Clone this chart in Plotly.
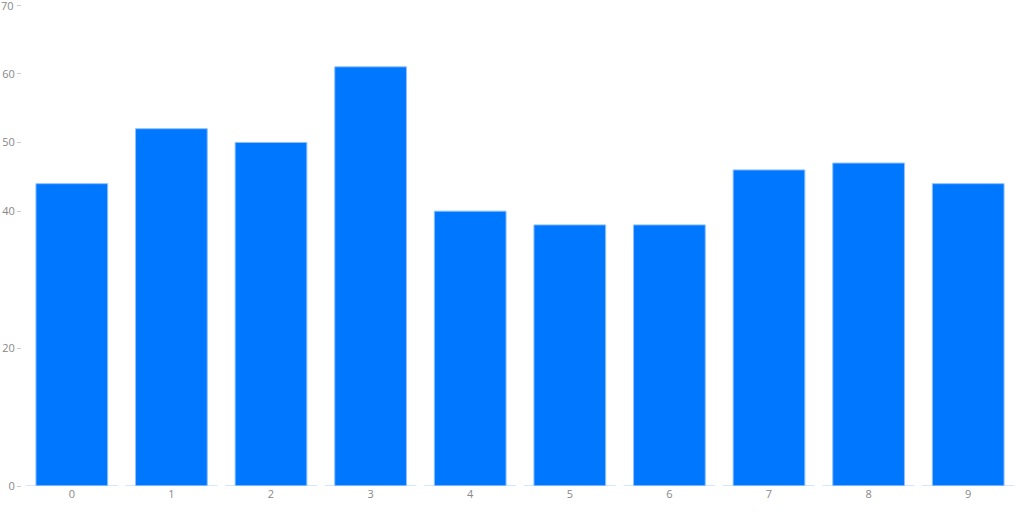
import plotly.graph_objects as go

categories = [0, 1, 2, 3, 4, 5, 6, 7, 8, 9]
values = [44, 52, 50, 61, 40, 38, 38, 46, 47, 44]
y_ticks = [0, 20, 40, 50, 60, 70]

fig = go.Figure()
fig.add_trace(go.Bar(
    x=categories, y=values,
    marker=dict(color="#0077ff", line=dict(color="#8fc0ff", width=1)),
    hoverinfo="x+y",
))

# segmented baseline under each category
seg_x, seg_y = [], []
for c in categories:
    seg_x += [c - 0.46, c + 0.46, None]
    seg_y += [0, 0, None]
fig.add_trace(go.Scatter(x=seg_x, y=seg_y, mode="lines", cliponaxis=False,
                         line=dict(color="#a9cdf5", width=1.2), hoverinfo="skip"))

fig.update_layout(
    width=1024, height=512,
    margin=dict(l=22, r=6, t=5, b=26),
    paper_bgcolor="white", plot_bgcolor="white",
    bargap=0.28, showlegend=False,
    font=dict(family="Open Sans, sans-serif", size=11, color="#888"),
    xaxis=dict(range=[-0.5, 9.5], tickvals=categories, showgrid=False,
               zeroline=False, showline=False, ticks="", ticklen=0,
               automargin=False),
    yaxis=dict(range=[0, 70], tickvals=y_ticks, showgrid=False, zeroline=False,
               showline=False, ticks="outside", ticklen=4, tickcolor="#ccc",
               automargin=False),
)

# top tick label gets dropped by plotly at the paper edge, so write it out
fig.add_annotation(text=str(y_ticks[-1]), x=0, xref="paper", xshift=-6,
                   y=y_ticks[-1], yref="y", xanchor="right", yanchor="middle",
                   showarrow=False, font=dict(size=11, color="#888"))

fig.write_html("out.html", config={"displayModeBar": False},
               post_script="document.body.style.margin='0';")
